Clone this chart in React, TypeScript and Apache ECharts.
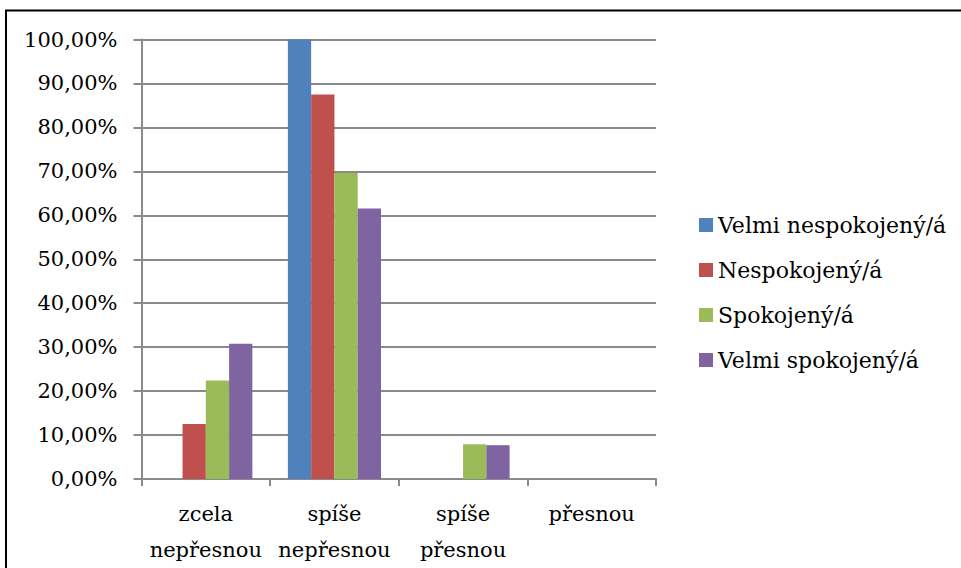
import React, { useEffect, useRef } from "react";
import * as echarts from "echarts";

const categories = ["zcela\nnepřesnou", "spíše\nnepřesnou", "spíše\npřesnou", "přesnou"];
const seriesNames = ["Velmi nespokojený/á", "Nespokojený/á", "Spokojený/á", "Velmi spokojený/á"];
const velmiNespokojeny = [0, 100, 0, 0];
const nespokojeny = [12.5, 87.5, 0, 0];
const spokojeny = [22.4, 69.6, 7.9, 0];
const velmiSpokojeny = [30.77, 61.54, 7.69, 0];
const colors = ["#4F81BD", "#C0504D", "#9BBB59", "#8064A2"];

const FONT = "DejaVu Serif";

export default function App() {
  const ref = useRef<HTMLDivElement>(null);
  useEffect(() => {
    document.body.style.margin = "0";
    const chart = echarts.init(ref.current!, null, { renderer: "svg" });
    const values = [velmiNespokojeny, nespokojeny, spokojeny, velmiSpokojeny];
    chart.setOption({
      animation: false,
      backgroundColor: "#ffffff",
      textStyle: { fontFamily: FONT },
      grid: { left: 141.5, top: 39.5, right: 305, bottom: 85.5, containLabel: false },
      legend: {
        orient: "vertical",
        left: 694,
        top: 205,
        icon: "rect",
        itemWidth: 14,
        itemHeight: 14,
        itemGap: 15,
        data: seriesNames,
        textStyle: { fontFamily: FONT, fontSize: 22, color: "#000", lineHeight: 30 },
      },
      xAxis: {
        type: "category",
        data: categories,
        axisLine: { show: true, lineStyle: { color: "#8a8a8a", width: 2 } },
        axisTick: { show: true, length: 7, lineStyle: { color: "#8a8a8a", width: 2 } },
        axisLabel: {
          interval: 0,
          margin: 17,
          fontFamily: FONT,
          fontSize: 21,
          lineHeight: 36,
          color: "#000",
        },
      },
      yAxis: {
        type: "value",
        min: 0,
        max: 100,
        interval: 10,
        axisLine: { show: true, lineStyle: { color: "#8a8a8a", width: 2 } },
        axisTick: { show: true, length: 8, lineStyle: { color: "#8a8a8a", width: 2 } },
        splitLine: { show: true, lineStyle: { color: "#8a8a8a", width: 2 } },
        axisLabel: {
          margin: 24,
          fontFamily: FONT,
          fontSize: 21,
          color: "#000",
          formatter: (v: number) => v.toFixed(2).replace(".", ",") + "%",
        },
      },
      series: seriesNames.map((name, i) => ({
        name,
        type: "bar",
        data: values[i],
        barGap: "0%",
        barCategoryGap: "27.6%",
        itemStyle: { color: colors[i] },
      })),
      graphic: [
        { type: "line", shape: { x1: 5, y1: 10.5, x2: 961, y2: 10.5 }, style: { stroke: "#000", lineWidth: 2 } },
        { type: "line", shape: { x1: 6, y1: 10, x2: 6, y2: 568 }, style: { stroke: "#000", lineWidth: 2 } },
      ],
    });
    return () => chart.dispose();
  }, []);
  return <div ref={ref} style={{ width: 961, height: 568 }} />;
}
